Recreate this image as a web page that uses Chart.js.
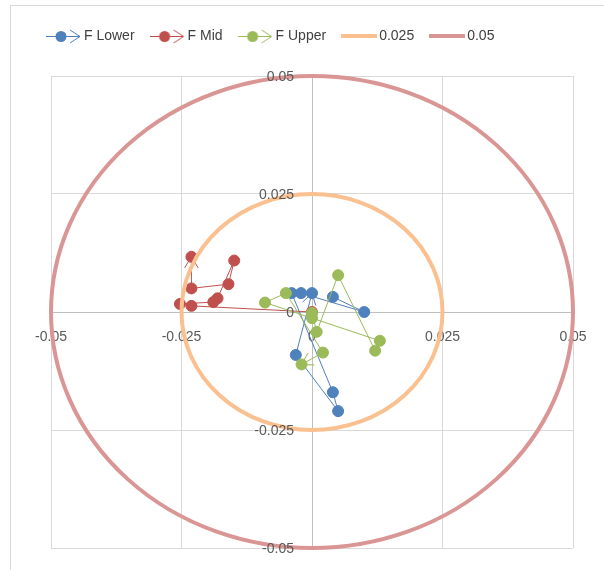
<!DOCTYPE html>
<html>
<head>
<meta charset="utf-8">
<script src="https://cdn.jsdelivr.net/npm/chart.js@4/dist/chart.umd.min.js"></script>
<style>
  html, body { margin: 0; padding: 0; background: #fff; }
  #wrap { position: relative; width: 604px; height: 570px; }
</style>
</head>
<body>
<div id="wrap"><canvas id="chart" width="604" height="570"></canvas></div>
<script>
// ticks on both axes
const axisTicks = [-0.05, -0.025, 0, 0.025, 0.05];

// F Lower
const lowerX = [0.0040, 0.0100, -0.0021, -0.0039, 0.0040, 0.0050, -0.0031, 0.0000];
const lowerY = [0.0032, 0.0000, 0.0040, 0.0040, -0.0170, -0.0210, -0.0091, 0.0040];

// F Mid
const midX = [0.0000, -0.0231, -0.0253, -0.0189, -0.0181, -0.0149, -0.0160, -0.0231, -0.0231];
const midY = [0.0000, 0.0013, 0.0017, 0.0021, 0.0029, 0.0109, 0.0059, 0.0050, 0.0117];

// F Upper
const upperX = [0.0000, 0.0009, 0.0050, 0.0121, 0.0130, 0.0000, -0.0090, -0.0050, 0.0021, -0.0020];
const upperY = [-0.0002, -0.0042, 0.0078, -0.0082, -0.0061, -0.0013, 0.0020, 0.0040, -0.0086, -0.0111];

// reference circles
const ringRadius = [0.025, 0.05];
const ringLabels = ["0.025", "0.05"];

const seriesLabels = ["F Lower", "F Mid", "F Upper"];
const seriesColors = ["#4F81BD", "#C0504D", "#9BBB59"];
const ringColors = ["#FAC090", "#D99694"];

const pts = (xs, ys) => xs.map((x, i) => ({ x: x, y: ys[i] }));

// little pictures for the legend (line, marker, open arrow)
function legendIcon(color, isSeries) {
  const c = document.createElement("canvas");
  c.width = 36;
  c.height = 16;
  const g = c.getContext("2d");
  g.strokeStyle = color;
  if (isSeries) {
    g.lineWidth = 1;
    g.beginPath();
    g.moveTo(0, 8.5);
    g.lineTo(34, 8.5);
    g.stroke();
    g.beginPath();
    g.moveTo(24, 2);
    g.lineTo(34, 8.5);
    g.lineTo(24, 15);
    g.stroke();
    g.fillStyle = color;
    g.beginPath();
    g.arc(15, 8.5, 5.5, 0, Math.PI * 2);
    g.fill();
  } else {
    g.lineWidth = 4;
    g.beginPath();
    g.moveTo(0, 8);
    g.lineTo(36, 8);
    g.stroke();
  }
  return c;
}

const legendIcons = seriesColors
  .map((c) => legendIcon(c, true))
  .concat(ringColors.map((c) => legendIcon(c, false)));

// arrow at the end of each series line
const arrowHeads = {
  id: "arrowHeads",
  beforeDatasetsDraw(chart) {
    const ctx = chart.ctx;
    chart.data.datasets.forEach((ds, i) => {
      if (!ds.arrowEnd) return;
      const p = chart.getDatasetMeta(i).data;
      const a = p[p.length - 2];
      const b = p[p.length - 1];
      const ang = Math.atan2(b.y - a.y, b.x - a.x);
      const len = 13;
      const spread = 0.55;
      ctx.save();
      ctx.strokeStyle = ds.borderColor;
      ctx.lineWidth = 1;
      ctx.beginPath();
      ctx.moveTo(b.x - len * Math.cos(ang - spread), b.y - len * Math.sin(ang - spread));
      ctx.lineTo(b.x, b.y);
      ctx.lineTo(b.x - len * Math.cos(ang + spread), b.y - len * Math.sin(ang + spread));
      ctx.stroke();
      ctx.restore();
    });
  },
};

// the 0.025 and 0.05 circles and the y tick labels, drawn through the scales
const rings = {
  id: "rings",
  afterDatasetsDraw(chart) {
    const ctx = chart.ctx;
    const sx = chart.scales.x;
    const sy = chart.scales.y;
    const cx = sx.getPixelForValue(0);
    const cy = sy.getPixelForValue(0);
    chart.data.datasets.forEach((ds) => {
      if (ds.ring === undefined) return;
      const rx = sx.getPixelForValue(ds.ring) - cx;
      const ry = cy - sy.getPixelForValue(ds.ring);
      ctx.save();
      ctx.strokeStyle = ds.borderColor;
      ctx.lineWidth = 4;
      ctx.beginPath();
      ctx.ellipse(cx, cy, rx, ry, 0, 0, Math.PI * 2);
      ctx.stroke();
      ctx.restore();
    });
    // y labels sit to the left of the vertical axis
    ctx.save();
    ctx.fillStyle = "#595959";
    ctx.font = "14px 'Liberation Sans'";
    ctx.textAlign = "right";
    ctx.textBaseline = "middle";
    axisTicks.forEach((v) => {
      ctx.fillText(String(v), cx - 18, sy.getPixelForValue(v) + 1);
    });
    ctx.restore();
  },
};

// chart frame + legend spacing
const frame = {
  id: "frame",
  beforeInit(chart) {
    const fit = chart.legend.fit;
    chart.legend.fit = function () {
      fit.bind(chart.legend)();
      this.height += 23;
    };
  },
  afterLayout(chart) {
    chart.legend.left = 31;
  },
  beforeDraw(chart) {
    const ctx = chart.ctx;
    ctx.save();
    ctx.fillStyle = "#fff";
    ctx.fillRect(0, 0, chart.width, chart.height);
    ctx.strokeStyle = "#d9d9d9";
    ctx.lineWidth = 1;
    ctx.strokeRect(10.5, 5.5, 700, 700);
    ctx.restore();
  },
};

const seriesData = [pts(lowerX, lowerY), pts(midX, midY), pts(upperX, upperY)];

const datasets = seriesLabels.map((label, i) => ({
  label: label,
  data: seriesData[i],
  showLine: true,
  borderColor: seriesColors[i],
  backgroundColor: seriesColors[i],
  borderWidth: 1,
  pointRadius: 5.5,
  pointBorderWidth: 1,
  pointBackgroundColor: seriesColors[i],
  arrowEnd: true,
  order: 10 - i,
}));

ringRadius.forEach((r, i) => {
  datasets.push({
    label: ringLabels[i],
    data: [],
    ring: r,
    borderColor: ringColors[i],
    backgroundColor: ringColors[i],
    borderWidth: 4,
    order: 1,
  });
});

const tickFont = { family: "Liberation Sans", size: 14 };

new Chart(document.getElementById("chart"), {
  type: "scatter",
  data: { datasets: datasets },
  plugins: [frame, arrowHeads, rings],
  options: {
    responsive: false,
    animation: false,
    layout: { padding: { left: 51, right: 31, top: 9, bottom: 22 } },
    plugins: {
      tooltip: { enabled: false },
      legend: {
        position: "top",
        align: "start",
        labels: {
          usePointStyle: true,
          pointStyleWidth: 26,
          padding: 20,
          color: "#404040",
          font: tickFont,
          generateLabels: (chart) =>
            Chart.defaults.plugins.legend.labels
              .generateLabels(chart)
              .map((l) => Object.assign(l, { pointStyle: legendIcons[l.datasetIndex] })),
          sort: (a, b) => a.datasetIndex - b.datasetIndex,
        },
      },
    },
    scales: {
      x: {
        type: "linear",
        min: -0.05,
        max: 0.05,
        position: { y: 0 },
        afterBuildTicks: (s) => {
          s.ticks = axisTicks.map((v) => ({ value: v }));
        },
        grid: { color: "#d9d9d9", drawTicks: false },
        border: { color: "#bfbfbf" },
        ticks: {
          color: "#595959",
          font: tickFont,
          padding: 17,
          autoSkip: false,
          maxRotation: 0,
          callback: (v) => String(v),
        },
      },
      y: {
        type: "linear",
        min: -0.05,
        max: 0.05,
        position: { x: 0 },
        afterBuildTicks: (s) => {
          s.ticks = axisTicks.map((v) => ({ value: v }));
        },
        grid: { color: "#d9d9d9", drawTicks: false },
        border: { color: "#bfbfbf" },
        ticks: { display: false },
      },
    },
  },
});
</script>
</body>
</html>
